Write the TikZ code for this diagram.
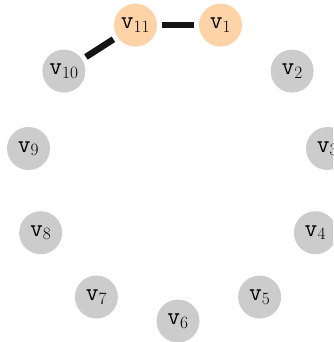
\documentclass[tikz,border=0pt]{standalone}
\begin{document}
\begin{tikzpicture}[x=1pt,y=1pt,
  vertex/.style={circle,minimum size=43pt,inner sep=0pt,draw=none,
    font=\fontsize{24}{24}\selectfont},
  idle/.style={vertex,fill=gray!40},
  active/.style={vertex,fill={rgb,255:red,255;green,211;blue,168}},
  link/.style={line width=6.5pt,draw={rgb,255:red,20;green,20;blue,20},
    shorten <=4.5pt,shorten >=4.5pt}]
  \useasboundingbox (0,0) rectangle (333,342);
  \clip (0,0) rectangle (333,342);
  % eleven vertices evenly spaced on a circle, v6 at the bottom
  \foreach \i in {1,...,11}{
    \pgfmathsetmacro{\ang}{-90+(6-\i)*360/11}
    \ifnum\i=1
      \node[active] (v\i) at ({178+151*cos(\ang)},{172+151*sin(\ang)}) {$\mathtt{v}_{\i}$};
    \else\ifnum\i=11
      \node[active] (v\i) at ({178+151*cos(\ang)},{172+151*sin(\ang)}) {$\mathtt{v}_{\i}$};
    \else
      \node[idle] (v\i) at ({178+151*cos(\ang)},{172+151*sin(\ang)}) {$\mathtt{v}_{\i}$};
    \fi\fi
  }
  \draw[link] (v11) -- (v1);
  \draw[link] (v11) -- (v10);
\end{tikzpicture}
\end{document}
